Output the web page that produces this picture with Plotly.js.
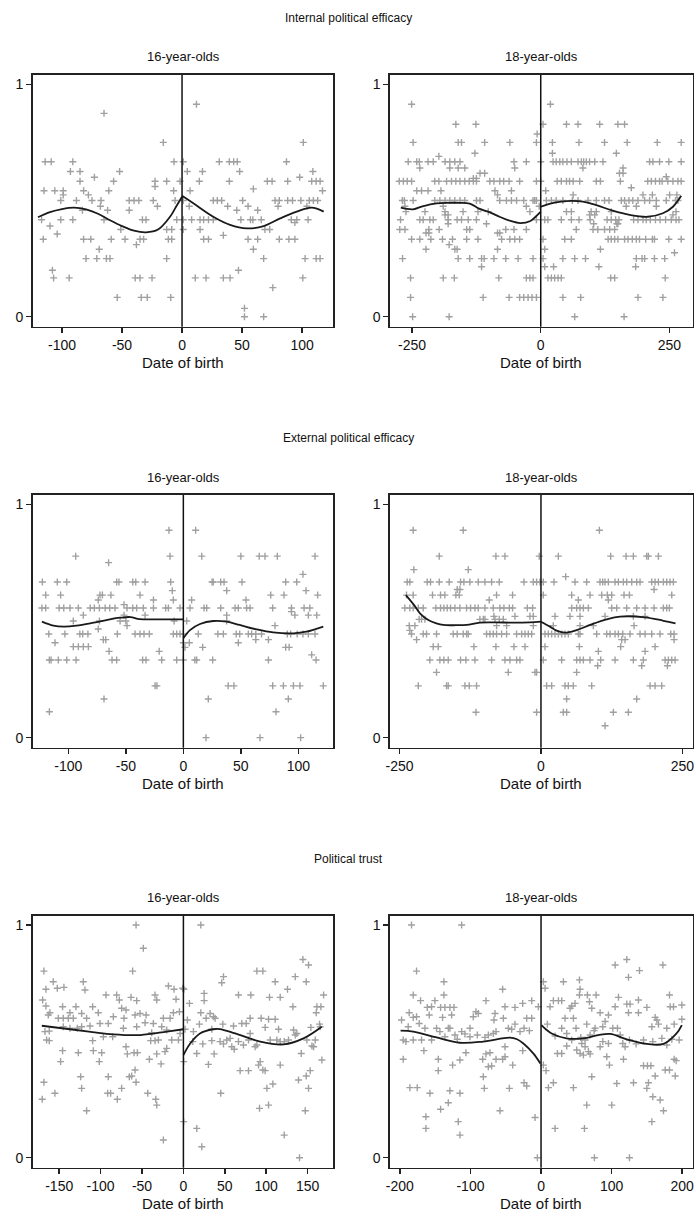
<!DOCTYPE html>
<html><head><meta charset="utf-8">
<script src="https://cdn.plot.ly/plotly-3.0.1.min.js"></script>
<style>html,body{margin:0;padding:0;background:#fff}</style>
</head><body><div id="chart" style="width:696px;height:1217px"></div>
<script>
// ---------- DATA ----------
const sectionTitles = ["Internal political efficacy", "External political efficacy", "Political trust"];
const groupTitles = ["16-year-olds", "18-year-olds"];
const xTitle = "Date of birth";

const ticks16a = [-100, -50, 0, 50, 100];
const ticks18a = [-250, 0, 250];
const ticks16c = [-150, -100, -50, 0, 50, 100, 150];
const ticks18c = [-200, -100, 0, 100, 200];
const yTicks = [0, 1];

// Internal political efficacy, 16-year-olds: [y level, x values]
const ipe16Rows = [
 [0.914,[12]],[0.875,[-65]],[0.75,[-15.6,101]],
 [0.667,[-114,-109,-91,-6.7,1,31,39.4,43,46,87]],
 [0.625,[-93,-85,-52,4.4,17,48,109]],
 [0.6,[-73,98]],
 [0.583,[-85,-57,-22.5,-12.8,-1.7,14.4,39.4,71,75,88,108,111.7,115]],
 [0.56,[-22.5]],[0.55,[59.4]],
 [0.542,[-115,-106,-99,-82,-61,-7,6.7,117]],
 [0.524,[-99,-78]],
 [0.5,[-101,-88,-75,-67.5,-44,-40,-36,-24,-5.8,1,26,29.4,33,50.5,77.5,81,88,92,99,106,109.4,113]],
 [0.475,[-68,-20.5,6,38,55,80,104]],
 [0.458,[-83,-62,-44,45.6,63]],
 [0.417,[-117,-101,-91,-65,-33,-30,-4.4,1,8,15,18,22,26,49,57,59,66,91,95.6,105]],
 [0.405,[94]],[0.39,[-110]],
 [0.375,[-51,-12.8,-8.6,1,15,69,73]],
 [0.356,[-104]],[0.35,[34.4]],
 [0.333,[-115.6,-82,-76,-59,-47.5,-35,-32,-11.4,-8.6,18,22,55,63,81,89,94]],
 [0.31,[-38]],[0.29,[-69,59.4]],
 [0.25,[-80,-71,-63,-60,-12.8,68,102.5,111.7,115]],
 [0.2,[-108,47]],
 [0.167,[-107,-94,-39,-35,-25,11,20,34.4,40,100.6]],
 [0.125,[75.6]],[0.083,[-54,-34,-29,-9.4]],[0.036,[52]],[0,[52,68]]
];
const ipe16FitLx = [-120,-110,-100,-90,-80,-70,-60,-50,-40,-30,-20,-10,-5,0];
const ipe16FitLy = [0.428,0.45,0.463,0.469,0.462,0.443,0.415,0.39,0.37,0.363,0.375,0.43,0.473,0.516];
const ipe16FitRx = [0,9.4,26,40,54,68,81.7,95.6,108,118];
const ipe16FitRy = [0.52,0.488,0.43,0.395,0.38,0.39,0.423,0.452,0.469,0.452];

// Internal political efficacy, 18-year-olds
const ipe18Rows = [
 [0.914,[-251,18.8]],
 [0.828,[-165,-126,4.5,50,72.5,114.6,150,163]],
 [0.786,[-7]],
 [0.75,[-248,-160.5,-154,-109,-60,-8.4,22.7,74.4,124,168,226.5,273]],
 [0.703,[-128,22.7,147]],[0.69,[-198]],
 [0.667,[-257.6,-241,-236,-219,-209,-186,-176.7,-167,-157,-52,-28,0,24,30,37,43,51,59.5,72.5,79,83.5,88.7,95,105,121,211.6,218,231,249,273]],
 [0.64,[-235,-176.7,-160.5,-147.6,-50.5,82,160]],
 [0.617,[-118,-109,153,160]],[0.602,[244]],[0.595,[-131,-125]],
 [0.583,[-275,-267,-259.5,-251,-206,-198,-183,-173.5,-165,-157,-147.6,-139,-131,-125,-99,-91,-79.6,-72,-61.5,-41,-8.4,0,32,40,50,56,63,75.7,108,116,154.7,208,215,223,231,236,247,257,266.7,273]],
 [0.555,[176]],
 [0.542,[-241,-231.7,-219,-194,-89,-57,9.7]],
 [0.524,[-84,63,198.7,217,250.5,264.7]],
 [0.5,[-269,-265,-248,-206,-196,-186,-176.7,-167,-157,-147.6,-125,-118,-79.6,-66.7,-57,-47,-33,-15,-11.7,-8.4,11,20.7,30,43,61.5,72.5,92,108,124,132.7,156.6,163,171.5,179,189,202,211.6,224.6,244,262,266.7]],
 [0.475,[-264,-189.6,-28,-3,166,185.8,224.6]],
 [0.452,[-262,-225,-186,-151,-122,-102,-21,50,59.5,98,108,137,263]],
 [0.438,[-186,-180,95,105,257]],
 [0.417,[-272.5,-235,-228.5,-215.5,-209,-180,-162.5,-154,-141,-125,-8.4,7.8,14,40,59.5,74.4,96,129,137,145.6,152,180.6,189,198.7,205,213,223,232,242.7,253.7,263,268.6]],
 [0.4,[-180,-105.5,103,148,150]],
 [0.375,[-274,-264,-217.5,-197.4,-144,-138,-68,-52,-28,69,101.6,111,124,134,143.7]],
 [0.36,[-223,-217.5,-84,-79.6]],
 [0.333,[-251,-235,-213.6,-191,-171.5,-144,-122,-76,-60,-50.5,-41,4.5,46.6,59.5,131,137,143.7,150,163,169.6,178,185.8,192,204,217,221,249,273]],
 [0.31,[-178]],
 [0.29,[-223,-167,-162.5,-84,7.8,116]],
 [0.275,[260]],
 [0.25,[-268.6,-160.5,-138,-115,-110,-91,-68,-44,-15,4.5,43,66,87,185.8,197,202,221,241]],
 [0.215,[-115,7.8,25,113,184.5]],
 [0.167,[-253,-189.6,-168,-81.5,-28,-21,-15,14,20.7,27,33.7,40,136,143.7,242]],
 [0.083,[-253,-112,-61.5,-41,-33,-24.6,-17,-8.4,43,77.7,189,237.5]],
 [0,[-249,-178,66,162]]
];
const ipe18FitLx = [-272,-248,-230,-203,-180,-160,-138,-120,-100,-80,-60,-40,-20,-10,0];
const ipe18FitLy = [0.469,0.462,0.475,0.488,0.49,0.49,0.487,0.465,0.45,0.43,0.413,0.403,0.412,0.43,0.452];
const ipe18FitRx = [0,20.7,40,59.5,82,108,140,173,208,237.5,257,273];
const ipe18FitRy = [0.473,0.488,0.495,0.498,0.495,0.48,0.456,0.438,0.43,0.445,0.473,0.52];

// External political efficacy, 16-year-olds
const epe16Rows = [
 [0.889,[-12.5,10.7]],
 [0.778,[-93.6,-11.6,16,50,66,71,81.7,114.5]],
 [0.75,[-65]],[0.7,[104]],
 [0.667,[-122.6,-109.6,-101.4,-58,-56,-44,-41.4,-33.3,-11,25,26,32.5,35.4,51,89,98.6]],
 [0.63,[-9.6,37.7,106.7]],
 [0.611,[-119.7,-106.7,-72.5,-70.4,-63,-37.7,76,87.5,116.8]],
 [0.59,[-74,-26,-8.7,7.2,54.5]],
 [0.57,[-51.6]],
 [0.556,[-123,-119.7,-108,-104,-98.6,-91.3,-81,-77.4,-73,-68,-64,-59.4,-49,-44,-40.6,-34.8,-26,-15.4,-13,-2.9,5.8,18,20.3,32.5,45,47.8,55,58,77.7,94,105,110]],
 [0.54,[94]],
 [0.525,[-87,-51.6,-33.3,37.7,97,108.7,116]],
 [0.5,[-95.7,-73,-55,-50,-8,2.9,37.7]],
 [0.48,[-49,79.7]],[0.466,[-74]],
 [0.444,[-117,-103,-90,-87.5,-83,-57.4,-42,-37.7,-34.2,-29.6,-8.7,-5.8,-2.9,0,13,30,34.8,46,49,56.5,59.4,63,68,90.4,93.3,99,104,108.7,114.5]],
 [0.42,[-69.6,-67.5,63,74]],
 [0.407,[-111.6,0,5.2,47.8]],
 [0.39,[-95.7,-91.3,-87,-82.6]],
 [0.387,[1.4,16.8,89,92]],
 [0.37,[-64.6,-21]],[0.355,[111.6]],
 [0.333,[-116.5,-115,-108.7,-101.4,-93.3,-62,-58,-35.4,-32.5,-18.8,-5.8,0,10,11.6,25.5,74,115.4]],
 [0.222,[-24.6,-23,39,44,77.7,87,95.7,101.4,121.7]],
 [0.166,[-69,21.7,91.3]],
 [0.111,[-116.5,80.6]],
 [0,[19.7,66.7,102]]
];
const epe16FitLx = [-123,-113,-104,-93,-78,-64,-55,-46,-38,-20,0];
const epe16FitLy = [0.497,0.48,0.476,0.48,0.493,0.507,0.514,0.517,0.508,0.507,0.507];
const epe16FitRx = [0,5.8,14.5,26,37.7,49,63.8,78,95.7,107,121.7];
const epe16FitRy = [0.426,0.461,0.487,0.5,0.497,0.483,0.464,0.451,0.447,0.454,0.476];

// External political efficacy, 18-year-olds
const epe18Rows = [
 [0.889,[-226,-137.5,103.3]],
 [0.778,[-179.9,-79.7,-63.7,-3,30.7,123.3,150.5,163.4,187,190,207.7]],
 [0.72,[-224.8,-128.6]],[0.69,[43.7]],
 [0.667,[-236.6,-231.9,-201.2,-195.3,-179.9,-162.3,-142.2,-136.3,-125.7,-110.9,-99.1,-87.3,-73.8,-30.1,-13.6,-7.7,-1.8,4.1,23,60.2,80.8,104.4,109.2,113.3,119.2,131,136.9,145.7,151.6,160.5,169.3,175.2,195.9,201.8,207.7,216.5,222.4,228.3,234.2]],
 [0.635,[-148.1,-143.4,200]],
 [0.611,[-237.8,-226,-191.8,-177.6,-170,-150.5,-144.6,-78.5,-50.2,4.1,54.3,86.7,107.4,117.4,125.1,146.9,156.4,231.3]],
 [0.59,[-91.5,66.1,119.2]],
 [0.556,[-240.7,-231.9,-226,-217,-208.3,-185.9,-177.6,-171.7,-165.8,-159.9,-152.2,-143.4,-131.6,-124.5,-116.8,-110.9,-99.1,-84.4,-72.6,-65.5,-56,-50.2,-24.2,-14.8,54.3,63.1,69,75,83.8,125.1,133.9,151.6,169.3,184.1,200,216.5,222.4,227.2]],
 [0.52,[-83.2,-46,-19.5,-13.6,24.8,51.3,69,113.3,163.4,184.1]],
 [0.507,[-215.4,-211.2,-205.3,-108,-102,-99.1,-81.4,-73.8,-66.7]],
 [0.48,[-233,-223,-78.5,-60.8,-13.6,21.8,69,92.6,164.6]],
 [0.46,[-231.9]],
 [0.444,[-229,-208.3,-202.4,-184.7,-155.2,-148.1,-137.5,-131.6,-128.6,-96.2,-90.3,-84.4,-78.5,-69.6,-60.8,-43.1,-34.2,-28.3,-22.4,-16.5,7.1,13,18.9,24.8,30.7,36.6,42.5,48.4,66.1,69,98.5,116.2,122.1,131,136.9,144.6,157.5,175.2,184.1,195.9,210.6,229.5,235.4]],
 [0.42,[-220,142.8,148.7,235.4]],
 [0.39,[-190.6,-181.7,-118.6,-79.7,-47.8,-28.3,7.1,67.9,141,201.8]],
 [0.37,[101.5,184.1]],
 [0.333,[-196.5,-178.8,-171.7,-164,-142.2,-132.8,-116.8,-87.3,-63.7,-54.9,-43.1,-37.2,4.1,36.6,63.1,69,75,86.7,105.6,131,163.4,181.1,219.5,225.4,231.3,237.2]],
 [0.308,[100.3,178.2,223.6]],
 [0.28,[-184.7,-57.8,-10.6,-7.7,63.1]],
 [0.222,[-217,-167,-164,-134.5,-126.9,-113.9,10,18.9,42.5,48.4,57.2,89.7,192.9,201.8,213.6]],
 [0.166,[45.4,169.3]],
 [0.109,[-115,-7.7,39.5,45.4,128,154.6]],
 [0.051,[113.3]]
];
const epe18FitLx = [-239,-225,-214,-200,-185,-173,-150,-131.6,-108,-80,-50,-20,0];
const epe18FitLy = [0.611,0.57,0.533,0.505,0.49,0.483,0.482,0.483,0.493,0.494,0.493,0.494,0.497];
const epe18FitRx = [0,15.9,27.7,42.5,63,86.7,116,140,184,216.5,238];
const epe18FitRy = [0.497,0.476,0.459,0.45,0.461,0.483,0.507,0.519,0.516,0.501,0.49];

// Political trust, 16-year-olds: [x, y]
const trust16Pts = [
 [-57.2,1.0],[-48.4,0.9],[-168.5,0.802],[-61.3,0.802],[-120.9,0.756],[-157.2,0.756],[-18.1,0.738],[-11.3,0.724],[-0.8,0.728],[-166,0.724],[-152.3,0.728],[-144.3,0.732],[-118.9,0.721],[-93.5,0.699],[-80.6,0.699],[-77.4,0.678],[-63.3,0.689],[-56.4,0.675],[-34.3,0.699],[-32.2,0.678],[-8.9,0.681],[-170,0.678],[-166,0.652],[-161.2,0.623],[-163.2,0.613],[-145.9,0.649],[-137,0.623],[-129.8,0.649],[-122.9,0.62],[-109.6,0.649],[-102.8,0.623],[-116.9,0.599],[-112.8,0.566],[-74.6,0.642],[-69.3,0.635],[-58.4,0.613],[-52.4,0.62],[-45.1,0.613],[-71.7,0.599],[-46.3,0.58],[-36.3,0.577],[-24.2,0.599],[-16.1,0.599],[-12.1,0.623],[-4.8,0.627],[-20.2,0.549],[-26.2,0.563],[-151.1,0.599],[-145.1,0.599],[-139,0.599],[-133,0.599],[-84.6,0.606],[-90.7,0.577],[-100.8,0.577],[-122.9,0.563],[-128.2,0.556],[-167.2,0.542],[-162,0.544],[-145.1,0.563],[-137,0.556],[-162,0.503],[-165.2,0.506],[-109.6,0.503],[-96.7,0.52],[-85.4,0.52],[-72.5,0.556],[-56.4,0.563],[-38.3,0.537],[-34.3,0.503],[-39.5,0.503],[-30.2,0.506],[-14.1,0.506],[-6,0.506],[-4,0.534],[-145.9,0.46],[-126.9,0.451],[-108.8,0.46],[-98.7,0.451],[-69.3,0.477],[-67.7,0.446],[-59.6,0.451],[-55.6,0.451],[-41.1,0.423],[-32.2,0.446],[-22.2,0.456],[-20.2,0.47],[-148.3,0.413],[-101.6,0.413],[-58.4,0.377],[-62.5,0.351],[-27,0.403],[-124.1,0.348],[-90.7,0.348],[-57.2,0.324],[-65.3,0.348],[-168.5,0.324],[-122.9,0.298],[-74.6,0.298],[-155.2,0.277],[-91.5,0.277],[-87.9,0.277],[-43.1,0.277],[-79.8,0.251],[-170.5,0.251],[-33.4,0.251],[-32.2,0.226],[-116.9,0.202],[-24.2,0.076],[0.3,0.155],[0.3,0.413],
 [21,1.0],[144.3,0.852],[151.1,0.828],[88.7,0.802],[95.9,0.802],[48.4,0.778],[46.3,0.752],[110.8,0.756],[148.3,0.756],[135,0.778],[125.7,0.724],[0.5,0.724],[66.5,0.699],[81.4,0.699],[104,0.689],[116.9,0.689],[169.3,0.699],[7.3,0.663],[25,0.706],[25,0.675],[132.2,0.649],[161.2,0.649],[166,0.649],[160.4,0.623],[21,0.623],[27.4,0.599],[32.2,0.62],[36.3,0.606],[38.3,0.599],[47.6,0.574],[60.5,0.566],[70.5,0.577],[75.8,0.577],[80.6,0.599],[93.9,0.599],[102.8,0.595],[110.8,0.595],[98.7,0.56],[114.9,0.552],[133,0.549],[137,0.534],[153.9,0.56],[164.4,0.574],[165.2,0.563],[2,0.552],[4.8,0.592],[12.1,0.542],[19.3,0.574],[34.3,0.552],[11.3,0.499],[23.4,0.489],[34.3,0.503],[44.3,0.499],[48.4,0.489],[52.4,0.506],[56.4,0.513],[58.4,0.477],[61.3,0.466],[66.5,0.499],[72.5,0.484],[78.6,0.506],[80.6,0.534],[86.6,0.477],[88.7,0.484],[104.8,0.506],[112.8,0.506],[116.9,0.499],[121.7,0.499],[126.9,0.506],[135,0.527],[149.1,0.506],[155.2,0.48],[157.2,0.477],[159.2,0.506],[16.1,0.448],[37.1,0.446],[30.2,0.401],[142.3,0.448],[92.7,0.413],[90.7,0.398],[95.9,0.377],[116.9,0.398],[68.5,0.374],[78.6,0.374],[98.7,0.374],[153.1,0.374],[148.3,0.351],[167.2,0.42],[108,0.317],[100.8,0.298],[139,0.334],[151.1,0.298],[45.1,0.277],[91.9,0.212],[102.8,0.226],[147.1,0.202],[16.1,0.126],[22.2,0.047],[121.7,0.097],[140.2,0]
];
const trust16FitLx = [-171,-137,-110,-85,-52,-20,0];
const trust16FitLy = [0.567,0.552,0.54,0.53,0.527,0.542,0.552];
const trust16FitRx = [0,8,20,36,44,62.5,92.7,121,145,167];
const trust16FitRy = [0.441,0.49,0.534,0.552,0.553,0.534,0.499,0.487,0.513,0.563];

// Political trust, 18-year-olds: [x, y]
const trust18Pts = [
 [-183.5,1.0],[-112.5,1.0],[-176.4,0.802],[-137.6,0.756],[-137.6,0.699],[-181.1,0.699],[-170.7,0.675],[-150.4,0.675],[-161.2,0.646],[-155.1,0.649],[-142.3,0.646],[-136.2,0.646],[-129.1,0.646],[-123.4,0.646],[-186.8,0.623],[-181.1,0.603],[-176.4,0.606],[-158.4,0.613],[-139.5,0.603],[-126.7,0.613],[-197.6,0.592],[-172.6,0.577],[-188.2,0.563],[-164.5,0.556],[-148,0.556],[-131.4,0.556],[-129.1,0.556],[-122,0.527],[-112.5,0.542],[-100.7,0.556],[-92.2,0.627],[-96,0.606],[-88.9,0.62],[-78,0.675],[-65.2,0.62],[-66.7,0.592],[-53.4,0.599],[-51.1,0.649],[-36.9,0.646],[-26,0.663],[-20.3,0.599],[-13.2,0.599],[-13.2,0.675],[-3.8,0.649],[-54.4,0.724],[-195.3,0.506],[-191.5,0.499],[-181.1,0.506],[-169.3,0.506],[-166,0.46],[-155.1,0.506],[-143.3,0.542],[-136.2,0.52],[-118.7,0.509],[-107.8,0.532],[-100.7,0.52],[-90.3,0.527],[-79.4,0.517],[-74.7,0.527],[-67.6,0.534],[-63.8,0.542],[-51.1,0.477],[-46.3,0.556],[-41.6,0.552],[-36.9,0.574],[-29.8,0.542],[-24.1,0.556],[-16.5,0.546],[-195.3,0.423],[-145.6,0.423],[-145.6,0.374],[-125.3,0.398],[-114.9,0.42],[-106.4,0.451],[-82.7,0.423],[-78,0.446],[-72.3,0.451],[-81.8,0.348],[-74.7,0.391],[-70,0.394],[-63.8,0.423],[-54.4,0.423],[-51.1,0.434],[-40.2,0.398],[-26,0.46],[-185.8,0.301],[-175.4,0.301],[-157.4,0.277],[-129.1,0.288],[-114.9,0.277],[-80.4,0.298],[-44.9,0.298],[-24.1,0.322],[-20.3,0.308],[-131.4,0.236],[-142.3,0.208],[-58.2,0.202],[-163.1,0.176],[-163.1,0.126],[-117.3,0.155],[-114.9,0.097],[-8.5,0.173],[-5.2,0],
 [121.5,0.852],[105,0.828],[139.5,0.804],[172.6,0.828],[123.9,0.775],[3.3,0.756],[31.7,0.756],[54.4,0.764],[55.3,0.724],[54.4,0.699],[5.7,0.728],[65.7,0.699],[78,0.699],[68.6,0.67],[109.7,0.689],[121.5,0.66],[126.2,0.66],[138,0.678],[182,0.699],[17.5,0.675],[24.6,0.675],[29.3,0.675],[12.8,0.649],[43.5,0.652],[48.2,0.663],[41.1,0.642],[71.9,0.642],[149.9,0.646],[183,0.649],[187.7,0.649],[199.5,0.656],[34,0.599],[45.9,0.599],[83.7,0.623],[95.5,0.613],[105,0.649],[123.9,0.623],[138,0.623],[161.7,0.603],[164.1,0.592],[64.8,0.574],[76.6,0.556],[87.5,0.563],[90.8,0.585],[101.7,0.556],[108.3,0.556],[112.1,0.527],[157,0.563],[166.4,0.574],[178.2,0.556],[188.6,0.574],[199.5,0.595],[9,0.574],[19.9,0.523],[29.3,0.556],[36.4,0.534],[43.5,0.506],[49.6,0.556],[56.3,0.517],[62.4,0.506],[69.5,0.527],[75.2,0.546],[57.7,0.491],[62.4,0.477],[55.3,0.448],[60,0.441],[67.1,0.456],[69.5,0.446],[83.7,0.477],[87.5,0.499],[95.5,0.491],[115.8,0.491],[119.1,0.477],[125.3,0.506],[134.7,0.489],[145.2,0.506],[158.4,0.499],[171.2,0.513],[178.2,0.484],[185.3,0.509],[195.7,0.506],[23.2,0.448],[29.3,0.448],[36.4,0.48],[50.6,0.463],[93.1,0.434],[96.9,0.398],[116.8,0.423],[145.2,0.395],[150.8,0.395],[155.6,0.395],[175.9,0.377],[182,0.377],[188.6,0.423],[191.5,0.417],[190.1,0.351],[7.1,0.374],[10.4,0.301],[17.5,0.322],[45.9,0.301],[71.9,0.348],[107.3,0.319],[131,0.322],[152.2,0.322],[161.7,0.351],[149.9,0.298],[158.4,0.262],[168.8,0.248],[173.5,0.202],[64.8,0.226],[100.2,0.226],[157,0.155],[19.9,0.126],[61.5,0.126],[75.6,0],[125.3,0],[3.3,0.398]
];
const trust18FitLx = [-199,-181,-148,-115,-82,-44,-34,-25,-11,-1];
const trust18FitLy = [0.546,0.542,0.517,0.494,0.499,0.516,0.509,0.491,0.448,0.405];
const trust18FitRx = [0.5,8,15,36,60,81,98,121.5,150,173.5,192,199.5];
const trust18FitRy = [0.57,0.549,0.534,0.513,0.513,0.527,0.532,0.509,0.489,0.489,0.534,0.57];

// ---------- BUILD ----------
function fromRows(rows){const x=[],y=[];rows.forEach(r=>r[1].forEach(v=>{x.push(v);y.push(r[0]);}));return {x,y};}
function fromPairs(p){return {x:p.map(d=>d[0]),y:p.map(d=>d[1])};}

const W = 696, H = 1217;
const panels = [
 {pts: fromRows(ipe16Rows), fl:[ipe16FitLx,ipe16FitLy], fr:[ipe16FitRx,ipe16FitRy], range:[-124.4,126], ticks:ticks16a, col:0, row:0},
 {pts: fromRows(ipe18Rows), fl:[ipe18FitLx,ipe18FitLy], fr:[ipe18FitRx,ipe18FitRy], range:[-293,295], ticks:ticks18a, col:1, row:0},
 {pts: fromRows(epe16Rows), fl:[epe16FitLx,epe16FitLy], fr:[epe16FitRx,epe16FitRy], range:[-131,130.4], ticks:ticks16a, col:0, row:1},
 {pts: fromRows(epe18Rows), fl:[epe18FitLx,epe18FitLy], fr:[epe18FitRx,epe18FitRy], range:[-267,268], ticks:ticks18a, col:1, row:1},
 {pts: fromPairs(trust16Pts), fl:[trust16FitLx,trust16FitLy], fr:[trust16FitRx,trust16FitRy], range:[-182,181], ticks:ticks16c, col:0, row:2},
 {pts: fromPairs(trust18Pts), fl:[trust18FitLx,trust18FitLy], fr:[trust18FitRx,trust18FitRy], range:[-214,214.6], ticks:ticks18c, col:1, row:2}
];

// pixel geometry of plot boxes
const colX = [[32.7,333.3],[390,692.5]];
const rowY = [[75,326.7],[495,747.7],[915.7,1167.7]];

const FONT = 'Liberation Sans, Arial, sans-serif';
const data = [], shapes = [], annotations = [];
const layout = {
  width: W, height: H, margin:{l:0,r:0,t:0,b:0},
  paper_bgcolor:'#fff', plot_bgcolor:'#fff', showlegend:false,
  font:{family:FONT, color:'#111'}
};

panels.forEach((p,i)=>{
  const n = i===0 ? '' : String(i+1);
  const xa = 'x'+n, ya = 'y'+n;
  data.push({type:'scatter', mode:'markers', x:p.pts.x, y:p.pts.y, xaxis:xa, yaxis:ya,
    marker:{symbol:'cross-thin', size:5, color:'#a0a0a0', line:{width:1.4, color:'#a0a0a0'}}, hoverinfo:'skip'});
  [p.fl,p.fr].forEach(f=>data.push({type:'scatter', mode:'lines', x:f[0], y:f[1], xaxis:xa, yaxis:ya,
    line:{color:'#1a1a1a', width:1.8, shape:'spline', smoothing:1}, hoverinfo:'skip'}));
  const cx = colX[p.col], ry = rowY[p.row];
  layout['xaxis'+n] = {
    domain:[cx[0]/W, cx[1]/W], anchor:ya, range:p.range, autorange:false,
    tickmode:'array', tickvals:p.ticks, ticktext:p.ticks.map(v=>String(v)),
    ticks:'outside', ticklen:5, tickwidth:1.5, tickcolor:'#222',
    showline:true, mirror:true, linecolor:'#222', linewidth:1.6,
    showgrid:false, zeroline:false, automargin:false,
    tickfont:{size:14, family:FONT, color:'#111'}
  };
  layout['yaxis'+n] = {
    domain:[1-ry[1]/H, 1-ry[0]/H], anchor:xa, range:[-0.043,1.04], autorange:false,
    tickmode:'array', tickvals:yTicks, ticktext:yTicks.map(v=>String(v)),
    ticks:'outside', ticklen:5, tickwidth:1.5, tickcolor:'#222',
    showline:true, mirror:true, linecolor:'#222', linewidth:1.6,
    showgrid:false, zeroline:false, automargin:false,
    tickfont:{size:14, family:FONT, color:'#111'}
  };
  shapes.push({type:'line', xref:xa, yref:ya+' domain', x0:0, x1:0, y0:0, y1:1,
    line:{color:'#111', width:1.5}, layer:'above'});
  const midX = (cx[0]+cx[1])/2/W;
  annotations.push({text:groupTitles[p.col], x:midX, y:1-(ry[0]-18)/H, xref:'paper', yref:'paper',
    xanchor:'center', yanchor:'middle', showarrow:false, font:{size:13, family:FONT, color:'#111'}});
  annotations.push({text:xTitle, x:midX, y:1-(ry[1]+36)/H, xref:'paper', yref:'paper',
    xanchor:'center', yanchor:'middle', showarrow:false, font:{size:15, family:FONT, color:'#111'}});
});

rowY.forEach((ry,r)=>{
  annotations.push({text:sectionTitles[r], x:348/W, y:1-(ry[0]-57)/H, xref:'paper', yref:'paper',
    xanchor:'center', yanchor:'middle', showarrow:false, font:{size:12, family:FONT, color:'#111'}});
});

layout.shapes = shapes;
layout.annotations = annotations;
Plotly.newPlot('chart', data, layout, {staticPlot:true, displayModeBar:false});
</script></body></html>
